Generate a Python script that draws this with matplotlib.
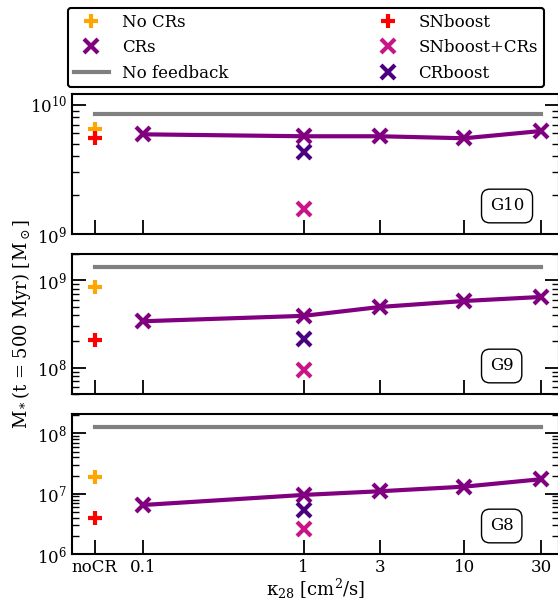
import matplotlib
matplotlib.use('Agg')
import matplotlib.pyplot as plt
from matplotlib.ticker import NullFormatter, LogLocator, NullLocator
from matplotlib.lines import Line2D
import numpy as np

plt.rcParams['font.family'] = 'DejaVu Serif'
plt.rcParams['mathtext.fontset'] = 'dejavuserif'
plt.rcParams['font.size'] = 12

# kappa_28 values, noCR is placed at 0.05 on the log axis
kappa = [0.1, 1, 3, 10, 30]
x_nocr = 0.05
xtick_pos = [0.05, 0.1, 1, 3, 10, 30]
xtick_lab = ['noCR', '0.1', '1', '3', '10', '30']

names = ['G10', 'G9', 'G8']
no_feedback = [8.4e9, 1.42e9, 1.29e8]
no_crs = [6.45e9, 8.4e8, 1.92e7]
snboost = [5.5e9, 2.07e8, 4.0e6]
crs = [[5.9e9, 5.7e9, 5.7e9, 5.5e9, 6.26e9],
       [3.4e8, 3.92e8, 4.96e8, 5.8e8, 6.45e8],
       [6.5e6, 9.55e6, 1.1e7, 1.31e7, 1.74e7]]
snboost_crs = [1.56e9, 9.4e7, 2.63e6]
crboost = [4.33e9, 2.12e8, 5.4e6]
ylims = [(1e9, 1.21e10), (5e7, 2e9), (1e6, 2.1e8)]

c_nocr = 'orange'
c_sn = 'red'
c_cr = 'purple'
c_sncr = 'mediumvioletred'
c_crb = 'indigo'

fig = plt.figure(figsize=(5.58, 6.01), dpi=100)
W, H = 558., 601.
left, right = 72 / W, 559 / W
tops = [94, 254, 414]
ph = 140
axes = []
for t in tops:
    axes.append(fig.add_axes([left, 1 - (t + ph) / H, right - left, ph / H]))

for i, ax in enumerate(axes):
    ax.set_xscale('log')
    ax.set_yscale('log')
    ax.plot([x_nocr, 30], [no_feedback[i]] * 2, color='gray', lw=3)
    ax.plot(kappa, crs[i], color=c_cr, lw=3, marker='x', ms=10, mew=3)
    ax.plot(x_nocr, no_crs[i], '+', color=c_nocr, ms=10, mew=3)
    ax.plot(x_nocr, snboost[i], '+', color=c_sn, ms=10, mew=3)
    ax.plot(1, crboost[i], 'x', color=c_crb, ms=10, mew=3)
    ax.plot(1, snboost_crs[i], 'x', color=c_sncr, ms=10, mew=3)
    ax.set_xlim(0.0361, 38.8)
    ax.set_ylim(*ylims[i])
    ax.set_xticks(xtick_pos)
    ax.xaxis.set_minor_locator(NullLocator())
    if i == 2:
        ax.set_xticklabels(xtick_lab)
    else:
        ax.set_xticklabels([])
    ax.yaxis.set_minor_locator(LogLocator(base=10, subs=np.arange(2, 10)))
    ax.yaxis.set_minor_formatter(NullFormatter())
    ax.tick_params(which='both', direction='in', right=True, top=False)
    ax.tick_params(which='major', length=10, width=1.3)
    ax.tick_params(which='minor', length=5, width=1)
    for s in ax.spines.values():
        s.set_linewidth(1.5)
    ax.text(0.858, 0.2, names[i], transform=ax.transAxes, ha='left', va='center',
            fontsize=12, bbox=dict(boxstyle='round,pad=0.5', fc='white', ec='black'))

axes[2].set_xlabel(r'$\mathrm{\kappa_{28}}$ [cm$^2$/s]', fontsize=13, labelpad=1)
fig.text(0.039, 1 - 324 / H, r'M$_*$(t = 500 Myr) [M$_\odot$]', rotation=90,
         ha='center', va='center', fontsize=13)

handles = [
    Line2D([], [], ls='', marker='+', color=c_nocr, ms=10, mew=3),
    Line2D([], [], ls='', marker='x', color=c_cr, ms=10, mew=3),
    Line2D([], [], color='gray', lw=3),
    Line2D([], [], ls='', marker='+', color=c_sn, ms=10, mew=3),
    Line2D([], [], ls='', marker='x', color=c_sncr, ms=10, mew=3),
    Line2D([], [], ls='', marker='x', color=c_crb, ms=10, mew=3),
]
labels = ['No CRs', 'CRs', 'No feedback', 'SNboost', 'SNboost+CRs', 'CRboost']
leg = fig.legend(handles, labels, ncol=2, loc='upper left',
                 bbox_to_anchor=(68 / W, 1 - 8 / H),
                 frameon=True, fancybox=True, edgecolor='black', fontsize=12,
                 borderaxespad=0, handlelength=2.1, columnspacing=8.5,
                 borderpad=0.35)
leg.get_frame().set_linewidth(1.5)
leg.get_frame().set_alpha(1)

fig.savefig('out.png', dpi=100)
